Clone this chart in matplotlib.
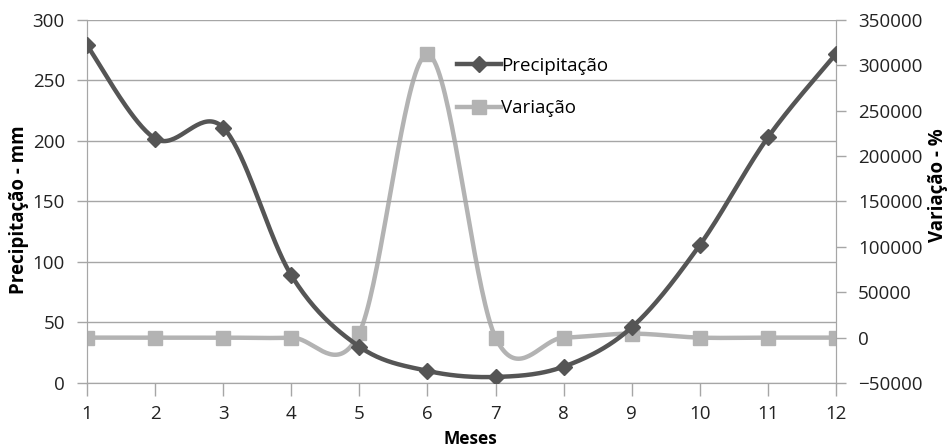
import numpy as np
import matplotlib
matplotlib.use("Agg")
import matplotlib.pyplot as plt
from matplotlib.lines import Line2D

meses = [1, 2, 3, 4, 5, 6, 7, 8, 9, 10, 11, 12]
precipitacao = [279, 202, 211, 89, 30, 10, 5, 13.5, 46, 114, 203, 272]
variacao = [0, 0, 0, 0, 5500, 312000, 0, 0, 4400, 0, 0, 0]

cor_prec = '#555555'
cor_var = '#b3b3b3'
cor_grade = '#a6a6a6'

plt.rcParams['font.family'] = ['Open Sans', 'DejaVu Sans']


def curva_suave(x, y, n=40):
    # bezier do tipo usado pelo excel (catmull-rom, tensao 1/6)
    p = np.column_stack([x, y]).astype(float)
    p = np.vstack([p[0], p, p[-1]])
    xs, ys = [], []
    t = np.linspace(0, 1, n)[:, None]
    for i in range(1, len(p) - 2):
        p0, p1, p2, p3 = p[i - 1], p[i], p[i + 1], p[i + 2]
        b1 = p1 + (p2 - p0) / 6
        b2 = p2 - (p3 - p1) / 6
        c = ((1 - t) ** 3) * p1 + 3 * ((1 - t) ** 2) * t * b1 + 3 * (1 - t) * t ** 2 * b2 + t ** 3 * p2
        xs.extend(c[:, 0])
        ys.extend(c[:, 1])
    return np.array(xs), np.array(ys)


fig = plt.figure(figsize=(9.47, 4.48), dpi=100)
ax = fig.add_axes([0.0919, 0.1451, 0.7909, 0.8103])
ax2 = ax.twinx()

xv, yv = curva_suave(meses, variacao)
ax2.plot(xv, yv, color=cor_var, lw=3.2, zorder=2, solid_capstyle='round')
ax2.plot(meses, variacao, ls='none', marker='s', ms=10, color=cor_var, zorder=3)

xp, yp = curva_suave(meses, precipitacao)
ax.plot(xp, yp, color=cor_prec, lw=3.2, zorder=4, solid_capstyle='round')
ax.plot(meses, precipitacao, ls='none', marker='D', ms=8.5, color=cor_prec, zorder=5)

ax.set_zorder(ax2.get_zorder() + 1)
ax.patch.set_visible(False)

ax.set_xlim(1, 12)
ax.set_ylim(0, 300)
ax2.set_ylim(-50000, 350000)
ax.set_yticks(range(0, 301, 50))
ax2.set_yticks(range(-50000, 350001, 50000))
ax.set_xticks(meses)

ax.grid(axis='y', color=cor_grade, lw=1)
ax.set_axisbelow(True)

for a in (ax, ax2):
    for s in a.spines.values():
        s.set_color(cor_grade)
    a.spines['top'].set_visible(False)
    a.tick_params(colors=cor_grade, labelcolor='#222222', labelsize=13.5, length=7, width=1)
ax.tick_params(axis='x', pad=7, length=9)
ax.tick_params(axis='y', pad=9)
ax2.tick_params(axis='y', pad=9)

fig.text(0.02, 0.531, 'Precipitação - mm', rotation=90, ha='center', va='center',
         fontsize=13.5, fontweight='bold')
fig.text(0.99, 0.587, 'Variação - %', rotation=90, ha='center', va='center',
         fontsize=13.5, fontweight='bold')
fig.text(0.497, 0.0, 'Meses', ha='center', va='bottom', fontsize=12.5, fontweight='bold')

handles = [
    Line2D([], [], color=cor_prec, lw=3.2, marker='D', ms=8.5),
    Line2D([], [], color=cor_var, lw=3.2, marker='s', ms=10),
]
ax.legend(handles, ['Precipitação', 'Variação'], loc='upper left',
          bbox_to_anchor=(0.472, 0.945), frameon=False, fontsize=13.5,
          handlelength=2.3, handletextpad=0.05, labelspacing=1.3)

fig.savefig('out.png', dpi=100, facecolor='white')
